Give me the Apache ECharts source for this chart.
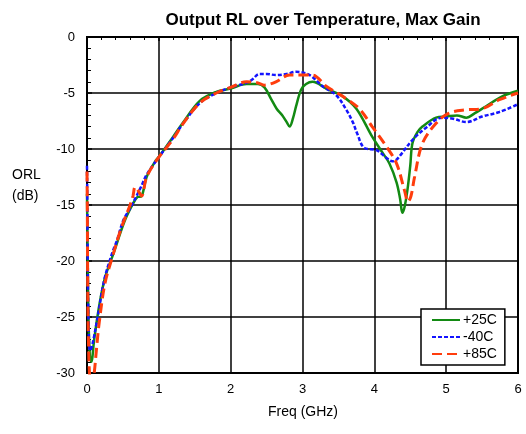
<!DOCTYPE html>
<html>
<head>
<meta charset="utf-8">
<script src="https://cdn.jsdelivr.net/npm/echarts@6/dist/echarts.min.js"></script>
<style>
html,body{margin:0;padding:0;background:#fff;}
#chart{width:526px;height:434px;}
</style>
</head>
<body>
<div id="chart"></div>
<script>
var titleText = 'Output RL over Temperature, Max Gain';
var xAxisName = 'Freq (GHz)';
var yAxisName = 'ORL\n(dB)';
var seriesNames = ['+25C', '-40C', '+85C'];

var freq25 = [0, 0.01, 0.02, 0.04, 0.06, 0.1, 0.17, 0.25, 0.37, 0.52, 0.63, 0.7, 0.76, 0.83, 0.96, 1.0, 1.2, 1.33, 1.57, 1.8, 2.0, 2.22, 2.38, 2.47, 2.56, 2.64, 2.72, 2.78, 2.82, 2.87, 2.91, 2.98, 3.05, 3.14, 3.33, 3.56, 3.75, 3.97, 4.1, 4.21, 4.31, 4.36, 4.39, 4.42, 4.46, 4.5, 4.53, 4.6, 4.67, 4.86, 5.0, 5.15, 5.28, 5.4, 5.55, 5.78, 6.0];
var orl25 = [-14, -20, -25, -28.5, -29, -27, -24, -21.5, -19.3, -16.5, -15, -14.3, -14.2, -12.5, -11, -10.7, -8.9, -7.7, -5.7, -4.9, -4.6, -4.2, -4.2, -4.5, -5.5, -6.4, -7.0, -7.6, -8.0, -7.2, -6.2, -4.7, -4.2, -4.0, -4.6, -5.3, -6.4, -8.9, -10.2, -11.3, -13.0, -14.5, -15.7, -15.2, -13.7, -11.5, -9.5, -8.5, -8.0, -7.2, -7.1, -7.0, -7.2, -6.8, -6.2, -5.3, -4.8];

var freqM40 = [0, 0.005, 0.01, 0.02, 0.04, 0.06, 0.09, 0.14, 0.24, 0.35, 0.42, 0.51, 0.61, 0.75, 0.83, 0.97, 1.2, 1.33, 1.57, 1.8, 2.0, 2.22, 2.3, 2.4, 2.5, 2.63, 2.78, 2.91, 3.1, 3.28, 3.47, 3.61, 3.7, 3.76, 3.86, 4.03, 4.17, 4.25, 4.3, 4.37, 4.53, 4.72, 4.94, 5.1, 5.28, 5.5, 5.74, 6.0];
var orlM40 = [-11.5, -15, -20, -25, -28, -27.8, -27, -25.3, -21.7, -19.3, -18.1, -16.3, -15.2, -13.4, -12.3, -11, -9.0, -7.8, -5.9, -5.0, -4.5, -4.1, -3.8, -3.3, -3.3, -3.4, -3.3, -3.1, -3.4, -4.4, -5.2, -6.5, -7.6, -8.6, -9.9, -10.1, -10.8, -11.1, -11.0, -10.5, -9.2, -8.1, -7.2, -7.3, -7.6, -7.1, -6.7, -6.0];

var freq85 = [0, 0.005, 0.01, 0.02, 0.04, 0.07, 0.1, 0.13, 0.17, 0.25, 0.36, 0.48, 0.6, 0.64, 0.67, 0.72, 0.76, 0.83, 0.97, 1.2, 1.33, 1.57, 1.8, 2.0, 2.22, 2.38, 2.47, 2.55, 2.63, 2.82, 3.0, 3.14, 3.33, 3.56, 3.79, 3.97, 4.17, 4.31, 4.42, 4.47, 4.51, 4.56, 4.67, 4.86, 5.04, 5.28, 5.5, 5.74, 6.0];
var orl85 = [-12, -16, -22, -27, -30.5, -31, -30, -28, -25.5, -22, -19.5, -17, -15, -14.2, -13.4, -13.8, -14.2, -12.5, -11, -9.1, -7.8, -5.9, -5.0, -4.5, -4.0, -4.1, -4.3, -4.2, -4.0, -3.4, -3.4, -3.4, -4.4, -5.3, -6.4, -8.0, -9.8, -11.3, -13.7, -14.7, -14.2, -12.5, -9.5, -7.7, -6.8, -6.5, -6.4, -5.6, -5.0];

function pairs(xs, ys) {
  var out = [];
  for (var i = 0; i < xs.length; i++) out.push([xs[i], ys[i]]);
  return out;
}

var chart = echarts.init(document.getElementById('chart'), null, {renderer: 'canvas'});
var font = 'Liberation Sans, Arial, sans-serif';

chart.setOption({
  animation: false,
  backgroundColor: '#fff',
  title: {
    text: titleText,
    left: 318, top: 7,
    textAlign: 'center',
    textStyle: {fontFamily: font, fontWeight: 'bold', fontSize: 17, color: '#000'}
  },
  grid: {left: 87, right: 8, top: 37, bottom: 61, show: true, borderColor: '#000', borderWidth: 2, backgroundColor: 'transparent'},
  xAxis: {
    type: 'value', min: 0, max: 6, interval: 1,
    axisLine: {show: true, lineStyle: {color: '#000', width: 2}},
    axisTick: {show: true, inside: false, length: 4, lineStyle: {color: '#000', width: 1.5}},
    minorTick: {show: true, splitNumber: 5, length: 3, lineStyle: {color: '#000', width: 1}},
    splitLine: {show: true, lineStyle: {color: '#000', width: 1.5}},
    axisLabel: {color: '#000', fontFamily: font, fontSize: 13, margin: 10}
  },
  yAxis: {
    type: 'value', min: -30, max: 0, interval: 5,
    axisLine: {show: true, lineStyle: {color: '#000', width: 2}},
    axisTick: {show: true, inside: true, length: 5, lineStyle: {color: '#000', width: 1.5}},
    minorTick: {show: true, splitNumber: 5, length: 4, lineStyle: {color: '#000', width: 1}},
    splitLine: {show: true, lineStyle: {color: '#000', width: 1.5}},
    axisLabel: {color: '#000', fontFamily: font, fontSize: 13, margin: 12}
  },
  legend: {
    orient: 'vertical',
    left: 421, top: 309,
    backgroundColor: '#fff',
    borderColor: '#000', borderWidth: 1.5,
    padding: [4, 8, 4, 10],
    itemGap: 3,
    itemWidth: 28, itemHeight: 14,
    itemStyle: {opacity: 0},
    textStyle: {fontFamily: font, fontSize: 14, color: '#000', padding: [0, 0, 0, -2]},
    data: seriesNames
  },
  graphic: [
    {type: 'text', left: 12, top: 165, style: {text: yAxisName, font: '14px ' + font, fill: '#000', textAlign: 'left', lineHeight: 21}},
    {type: 'text', left: 268, top: 405, style: {text: xAxisName, font: '14px ' + font, fill: '#000'}}
  ],
  series: [
    {name: seriesNames[0], type: 'line', data: pairs(freq25, orl25), showSymbol: false, symbol: 'none', smooth: 0.35, clip: true,
     lineStyle: {color: '#138a13', width: 2.5}, itemStyle: {color: '#138a13'}, z: 3},
    {name: seriesNames[1], type: 'line', data: pairs(freqM40, orlM40), showSymbol: false, symbol: 'none', smooth: 0.35, clip: true,
     lineStyle: {color: '#1414ff', width: 2.5, type: [4, 2]}, itemStyle: {color: '#1414ff'}, z: 4},
    {name: seriesNames[2], type: 'line', data: pairs(freq85, orl85), showSymbol: false, symbol: 'none', smooth: 0.35, clip: true,
     lineStyle: {color: '#ff3d0d', width: 3, type: [10, 5]}, itemStyle: {color: '#ff3d0d'}, z: 5}
  ]
});
</script>
</body>
</html>
